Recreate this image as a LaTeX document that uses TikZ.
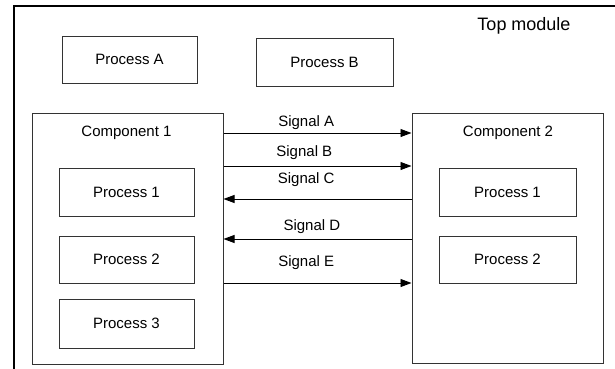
\documentclass[tikz,border=0pt]{standalone}
\usepackage{fontspec}
\setmainfont{Liberation Sans}
\usepackage{tikz}
\usetikzlibrary{arrows.meta}

\tikzset{
    proc/.style={draw=black!80, line width=0.9pt, minimum width=135pt, minimum height=47pt, inner sep=0pt, font=\fontsize{15}{17}\selectfont},
    comp/.style={draw=black!80, line width=1pt, minimum width=191pt, minimum height=251pt, inner sep=0pt},
    lbl/.style={inner sep=0pt, font=\fontsize{15}{17}\selectfont},
    sig/.style={line width=0.9pt, -{Triangle[length=11pt, width=8pt]}}
}

\begin{document}
\begin{tikzpicture}[x=1pt, y=-1pt]
        \useasboundingbox (0,0) rectangle (615,369);
        % outer module frame
        \draw[line width=2.6pt] (615,6) -- (14,6) -- (14,369);
        \node[lbl, font=\fontsize{18}{20}\selectfont] (top) at (524,26) {Top module};
        \node[proc] (pa) at (129.5,59.5) {Process A};
        \node[proc, minimum width=137pt, minimum height=48pt] (pb) at (324.5,62) {Process B};
        % components
        \node[comp] (c1) at (127.5,238.5) {};
        \node[lbl] (c1name) at (126.5,133) {Component 1};
        \node[proc, minimum height=48pt] (c1p1) at (126.5,192) {Process 1};
        \node[proc] (c1p2) at (126.5,259.5) {Process 2};
        \node[proc, minimum height=49pt] (c1p3) at (126.5,323.5) {Process 3};
        \node[comp, minimum height=250pt] (c2) at (507.5,238) {};
        \node[lbl] (c2name) at (508,133) {Component 2};
        \node[proc, minimum width=137pt, minimum height=48pt] (c2p1) at (507.5,192) {Process 1};
        \node[proc, minimum width=137pt] (c2p2) at (507.5,259.5) {Process 2};
        % signals
        \draw[sig] (c1.east |- 0,133) -- (c2.west |- 0,133) node[lbl, pos=0.44, yshift=10pt] {Signal A};
        \draw[sig] (c1.east |- 0,166) -- (c2.west |- 0,166) node[lbl, pos=0.43, yshift=13pt] {Signal B};
        \draw[sig] (c2.west |- 0,199) -- (c1.east |- 0,199) node[lbl, pos=0.56, yshift=19pt] {Signal C};
        \draw[sig] (c2.west |- 0,239) -- (c1.east |- 0,239) node[lbl, pos=0.53, yshift=12pt] {Signal D};
        \draw[sig] (c1.east |- 0,283) -- (c2.west |- 0,283) node[lbl, pos=0.44, yshift=20pt] {Signal E};
    \end{tikzpicture}
\end{document}
